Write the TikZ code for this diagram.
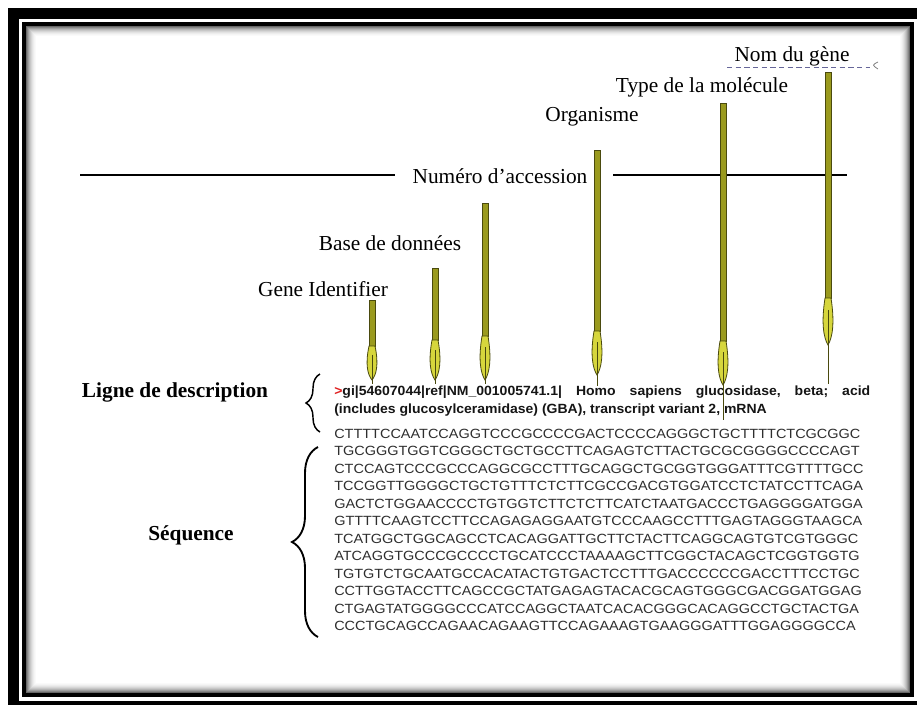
\documentclass[tikz,border=0pt]{standalone}
\usepackage{fontspec}
\setmainfont{Liberation Serif}
\newfontfamily\seqfont[FakeStretch=1.085]{Liberation Sans}
\newfontfamily\descfont[FakeStretch=1.05]{Liberation Sans}
\usetikzlibrary{decorations.pathreplacing}
\definecolor{shaftc}{HTML}{9A9A1E}
\definecolor{headc}{HTML}{D6D63C}
\definecolor{arrdark}{HTML}{4A4A0E}
\definecolor{seqgray}{HTML}{2E2E2E}
\definecolor{descblk}{HTML}{151515}
\definecolor{gtred}{HTML}{E02020}
\newcommand{\olivearrow}[6]{%
  \filldraw[fill=shaftc, draw=arrdark, line width=0.6pt] ({#1-3},#2) rectangle ({#1+3},#3);
  \filldraw[fill=headc, draw=arrdark, line width=0.6pt] ({#1-3},#3) .. controls ({#1-#6},{#3+0.55*(#4-#3)}) and ({#1-#6*0.6},{#3+0.85*(#4-#3)}) .. (#1,#4) .. controls ({#1+#6*0.6},{#3+0.85*(#4-#3)}) and ({#1+#6},{#3+0.55*(#4-#3)}) .. ({#1+3},#3) -- cycle;
  \draw[arrdark, line width=0.5pt] (#1,{#3+0.25*(#4-#3)}) -- (#1,#5);
}
\tikzset{
  lbl/.style={font=\fontsize{16}{18}\selectfont, inner sep=0pt},
  blbl/.style={font=\fontsize{16}{18}\selectfont\bfseries, inner sep=0pt},
  seqline/.style={font=\seqfont\fontsize{10}{12}\selectfont, text=seqgray, inner sep=0pt, anchor=base west},
  descline/.style={font=\descfont\fontsize{10}{12}\selectfont\bfseries, text=descblk, inner sep=0pt, anchor=base west},
  bracestyle/.style={decorate, line width=1.1pt},
}
\begin{document}
\begin{tikzpicture}[x=0.75pt,y=-0.75pt]
\useasboundingbox (0,0) rectangle (917,704);
\clip (0,0) rectangle (917,704);
\fill[white] (0,0) rectangle (917,704);
% frame
\fill[black] (8,8) rectangle (940,720);
\fill[white] (19,19) rectangle (930,701);
\draw[line width=3pt] (24,24) rectangle (912,695);
\foreach \i/\c in {0/60,1/48,2/38,3/29,4/22,5/16,6/11,7/7,8/4,9/2}
  \draw[black!\c, line width=0.75pt] ({26.5+\i},{26.5+\i}) rectangle ({909.5-\i},{692.5-\i});
% labels
\node[lbl] (nom) at (792,56) {Nom du gène};
\node[lbl] (type) at (702,87) {Type de la molécule};
\node[lbl] (org) at (592,117) {Organisme};
\node[lbl] (num) at (500,176) {Numéro d’accession};
\node[lbl] (base) at (390,243) {Base de données};
\node[lbl] (gene) at (323,289) {Gene Identifier};
\node[blbl] (ligne) at (175,392) {Ligne de description};
\node[blbl] (seq) at (191,535) {Séquence};
% dashed line under Nom du gene
\coordinate (dl) at (727,67);
\coordinate (dr) at (870,67);
\draw[gray!80!blue, line width=0.6pt, dash pattern=on 4pt off 2.5pt] (dl) -- (dr);
\draw[gray, line width=0.6pt] (878,62) .. controls (872,65) .. (878,69);
% horizontal line
\coordinate (hl1) at (80,175);
\coordinate (hl2) at (395,175);
\coordinate (hr1) at (613,175);
\coordinate (hr2) at (847,175);
\draw[line width=0.8pt] (hl1) -- (hl2);
\draw[line width=0.8pt] (hr1) -- (hr2);
% description
\node[descline] (d1) at (334,395) {\makebox[402pt][l]{\textcolor{gtred}{>}gi|54607044|ref|NM\_001005741.1|\hfill Homo\hfill sapiens\hfill glucosidase,\hfill beta;\hfill acid}};
\node[descline] (d2) at (334,413) {(includes glucosylceramidase) (GBA), transcript variant 2, mRNA};
% sequence
\foreach \s [count=\k from 0] in {
CTTTTCCAATCCAGGTCCCGCCCCGACTCCCCAGGGCTGCTTTTCTCGCGGC,
TGCGGGTGGTCGGGCTGCTGCCTTCAGAGTCTTACTGCGCGGGGCCCCAGT,
CTCCAGTCCCGCCCAGGCGCCTTTGCAGGCTGCGGTGGGATTTCGTTTTGCC,
TCCGGTTGGGGCTGCTGTTTCTCTTCGCCGACGTGGATCCTCTATCCTTCAGA,
GACTCTGGAACCCCTGTGGTCTTCTCTTCATCTAATGACCCTGAGGGGATGGA,
GTTTTCAAGTCCTTCCAGAGAGGAATGTCCCAAGCCTTTGAGTAGGGTAAGCA,
TCATGGCTGGCAGCCTCACAGGATTGCTTCTACTTCAGGCAGTGTCGTGGGC,
ATCAGGTGCCCGCCCCTGCATCCCTAAAAGCTTCGGCTACAGCTCGGTGGTG,
TGTGTCTGCAATGCCACATACTGTGACTCCTTTGACCCCCCGACCTTTCCTGC,
CCTTGGTACCTTCAGCCGCTATGAGAGTACACGCAGTGGGCGACGGATGGAG,
CTGAGTATGGGGCCCATCCAGGCTAATCACACGGGCACAGGCCTGCTACTGA,
CCCTGCAGCCAGAACAGAAGTTCCAGAAAGTGAAGGGATTTGGAGGGGCCA}
  \node[seqline] (s\k) at (334,{438+17.5*\k}) {\s};
% braces
\draw[bracestyle, decoration={brace, amplitude=10.5pt}] (320,432) -- (320,374);
\draw[bracestyle, line width=1.4pt, decoration={brace, amplitude=19.5pt}] (318,637) -- (318,447);
% arrows
\olivearrow{372}{300}{346}{380}{384}{7}
\olivearrow{435}{268}{340}{380}{384}{7}
\olivearrow{485}{203}{336}{380}{384}{7}
\olivearrow{597}{150}{331}{375}{386}{7}
\olivearrow{723}{103}{341}{385}{420}{7}
\olivearrow{828}{72}{298}{345}{384}{7}
\end{tikzpicture}
\end{document}
